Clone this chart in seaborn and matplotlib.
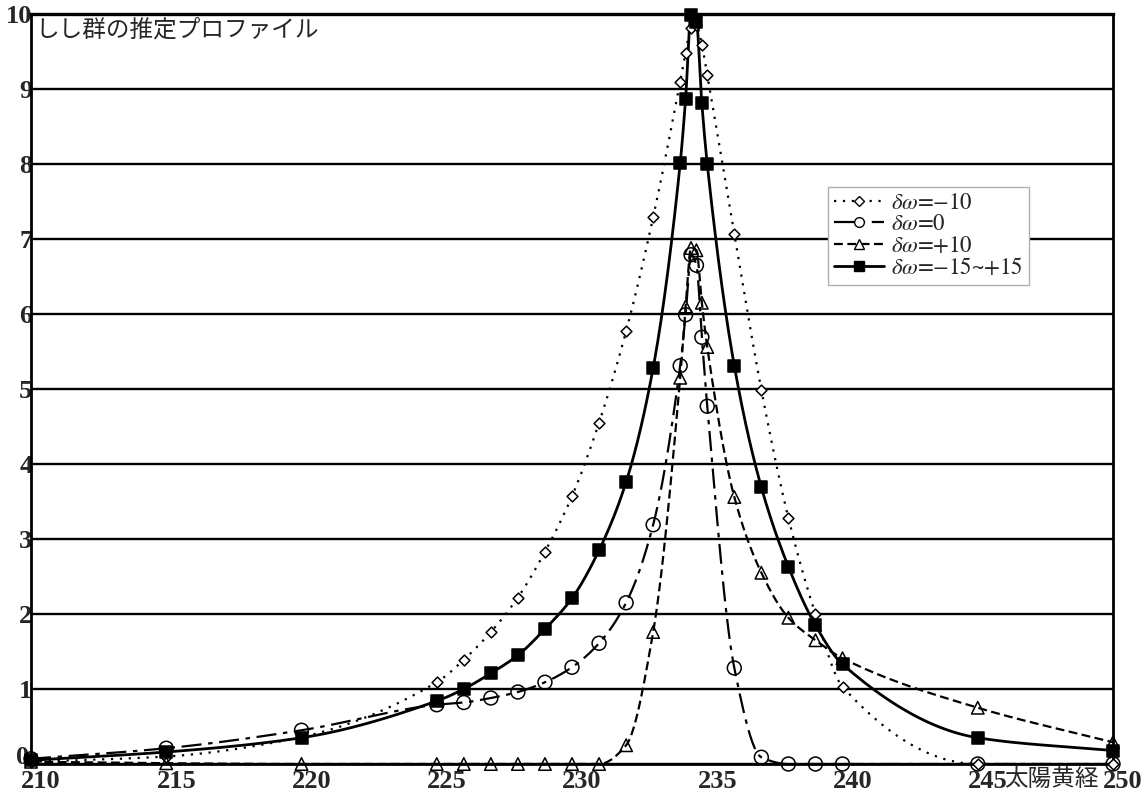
import numpy as np
import matplotlib
matplotlib.use("Agg")
import matplotlib.pyplot as plt
import matplotlib.transforms as mtransforms
from matplotlib.lines import Line2D
import seaborn as sns

# Solar longitude (deg) at which each profile value is given
longitude = [210, 215, 220, 225, 226, 227, 228, 229, 230, 231, 232, 233,
             234.0, 234.2, 234.4, 234.6, 234.8, 235, 236, 237, 238, 239, 240, 245, 250]

# Estimated Leonid activity profiles for several perihelion offsets
dw_minus10 = [0.03, 0.10, 0.36, 1.09, 1.39, 1.76, 2.22, 2.83, 3.57, 4.55, 5.77, 7.29,
              9.10, 9.48, 9.82, 9.85, 9.59, 9.19, 7.07, 4.99, 3.28, 2.00, 1.03, 0.00, 0.00]
dw_zero = [0.07, 0.21, 0.45, 0.79, 0.82, 0.88, 0.96, 1.09, 1.29, 1.61, 2.15, 3.19,
           5.31, 5.99, 6.79, 6.65, 5.69, 4.77, 1.28, 0.09, 0.00, 0.00, 0.00, 0.00, 0.00]
dw_plus10 = [0.03, 0.01, 0.00, 0.00, 0.00, 0.00, 0.00, 0.00, 0.00, 0.00, 0.25, 1.76,
             5.15, 6.10, 6.88, 6.85, 6.15, 5.56, 3.56, 2.55, 1.95, 1.65, 1.41, 0.75, 0.29]
dw_range = [0.05, 0.16, 0.35, 0.84, 1.00, 1.21, 1.45, 1.80, 2.21, 2.85, 3.76, 5.28,
            8.01, 8.87, 9.99, 9.90, 8.81, 8.00, 5.31, 3.69, 2.63, 1.85, 1.33, 0.35, 0.18]

series_labels = [r"$\delta\omega$=−10", r"$\delta\omega$=0",
                 r"$\delta\omega$=+10", r"$\delta\omega$=−15~+15"]
x_ticks = [210, 215, 220, 225, 230, 235, 240, 245, 250]
y_ticks = [0, 1, 2, 3, 4, 5, 6, 7, 8, 9, 10]
title_text = "しし群の推定プロファイル"
xlabel_text = "太陽黄経"


def smooth_path(x, y, n=24):
    """Monotone cubic (Fritsch-Carlson) path through the given points for drawing."""
    x = np.asarray(x, float)
    y = np.asarray(y, float)
    h = np.diff(x)
    d = np.diff(y) / h
    m = np.zeros_like(y)
    m[0], m[-1] = d[0], d[-1]
    for k in range(1, len(x) - 1):
        if d[k - 1] * d[k] <= 0:
            m[k] = 0.0
        else:
            w1 = 2 * h[k] + h[k - 1]
            w2 = h[k] + 2 * h[k - 1]
            m[k] = (w1 + w2) / (w1 / d[k - 1] + w2 / d[k])
    xs, ys = [], []
    for k in range(len(x) - 1):
        t = np.linspace(0, 1, n, endpoint=False)
        h00 = 2 * t**3 - 3 * t**2 + 1
        h10 = t**3 - 2 * t**2 + t
        h01 = -2 * t**3 + 3 * t**2
        h11 = t**3 - t**2
        xs.append(x[k] + t * h[k])
        ys.append(h00 * y[k] + h10 * h[k] * m[k] + h01 * y[k + 1] + h11 * h[k] * m[k + 1])
    xs.append([x[-1]])
    ys.append([y[-1]])
    return np.concatenate(xs), np.concatenate(ys)


sns.set_style("white")
plt.rcParams["font.family"] = ["Liberation Serif", "DejaVu Serif"]
plt.rcParams["mathtext.fontset"] = "stix"

fig = plt.figure(figsize=(11.43, 7.92), dpi=100)
ax = fig.add_axes([31 / 1143, 1 - 764 / 792, 1082 / 1143, 750 / 792])

styles = [
    dict(values=dw_minus10, ls=(0, (1, 3)), lw=1.6, marker="D", ms=5.5, face="white"),
    dict(values=dw_zero, ls=(0, (9, 3, 2, 3)), lw=1.6, marker="o", ms=10, face="none"),
    dict(values=dw_plus10, ls=(0, (4, 2)), lw=1.6, marker="^", ms=9, face="none"),
    dict(values=dw_range, ls="-", lw=2.0, marker="s", ms=9, face="black"),
]

for i, st in enumerate(styles):
    xs, ys = smooth_path(longitude, st["values"])
    sns.lineplot(x=xs, y=ys, ax=ax, color="black", linewidth=st["lw"],
                 linestyle=st["ls"], sort=False, estimator=None, zorder=3 + i)
    sns.scatterplot(x=longitude, y=st["values"], ax=ax, marker=st["marker"],
                    s=st["ms"] ** 2, facecolor=st["face"], edgecolor="black",
                    linewidth=1.1, zorder=7 + i, clip_on=False, legend=False)

ax.set_xlim(210, 250)
ax.set_ylim(0, 10)
ax.set_xticks(x_ticks)
ax.set_yticks(y_ticks)
ax.set_xticklabels([str(v) for v in x_ticks])
ax.set_yticklabels([str(v) for v in y_ticks])

ax.yaxis.grid(True, color="black", linewidth=1.7)
ax.xaxis.grid(False)
ax.set_axisbelow(True)
for side in ["left", "right", "top", "bottom"]:
    ax.spines[side].set_visible(True)
    ax.spines[side].set_color("black")
    ax.spines[side].set_linewidth(2.0)
ax.spines["top"].set_linewidth(2.4)

ax.tick_params(axis="x", direction="in", length=5, width=1.5, pad=4,
               labelsize=19)
ax.tick_params(axis="y", length=0, pad=-1, labelsize=19)
for lbl in ax.get_xticklabels() + ax.get_yticklabels():
    lbl.set_fontweight("bold")
shift_x = mtransforms.ScaledTranslation(10 / 100, 0, fig.dpi_scale_trans)
for lbl in ax.get_xticklabels():
    lbl.set_transform(lbl.get_transform() + shift_x)
# lift the zero label a little so it sits clear of the first longitude label
shift_zero = mtransforms.ScaledTranslation(-3 / 100, 9 / 100, fig.dpi_scale_trans)
zero_lbl = ax.get_yticklabels()[0]
zero_lbl.set_transform(zero_lbl.get_transform() + shift_zero)

ax.set_xlabel("")
ax.set_ylabel("")

ax.text(4 / 1082, 1 - 5 / 750, title_text, transform=ax.transAxes,
        ha="left", va="top", fontsize=17,
        family=["Noto Sans CJK JP", "DejaVu Sans"])
fig.text(1051 / 1143, 1 - 780 / 792, xlabel_text, ha="center", va="center",
         fontsize=17, family=["Noto Sans CJK JP", "DejaVu Sans"])

handles = []
for st, lab in zip(styles, series_labels):
    mface = st["face"] if st["face"] != "none" else "white"
    handles.append(Line2D([], [], color="black", linestyle=st["ls"], linewidth=st["lw"],
                          marker=st["marker"], markersize=min(st["ms"], 7),
                          markerfacecolor=mface, markeredgecolor="black",
                          markeredgewidth=1.0, label=lab))
leg = ax.legend(handles=handles, loc="upper left",
                bbox_to_anchor=((828 - 31) / 1082, (764 - 187) / 750),
                borderaxespad=0, frameon=True, fancybox=False, framealpha=1,
                edgecolor="#b0b0b0", handlelength=2.2,
                handletextpad=0.3, labelspacing=0.0, borderpad=0.25,
                prop={"family": "STIXGeneral", "size": 16.5})
leg.get_frame().set_linewidth(1.0)
leg.set_zorder(20)

fig.savefig("out.png", dpi=100, facecolor="white")
